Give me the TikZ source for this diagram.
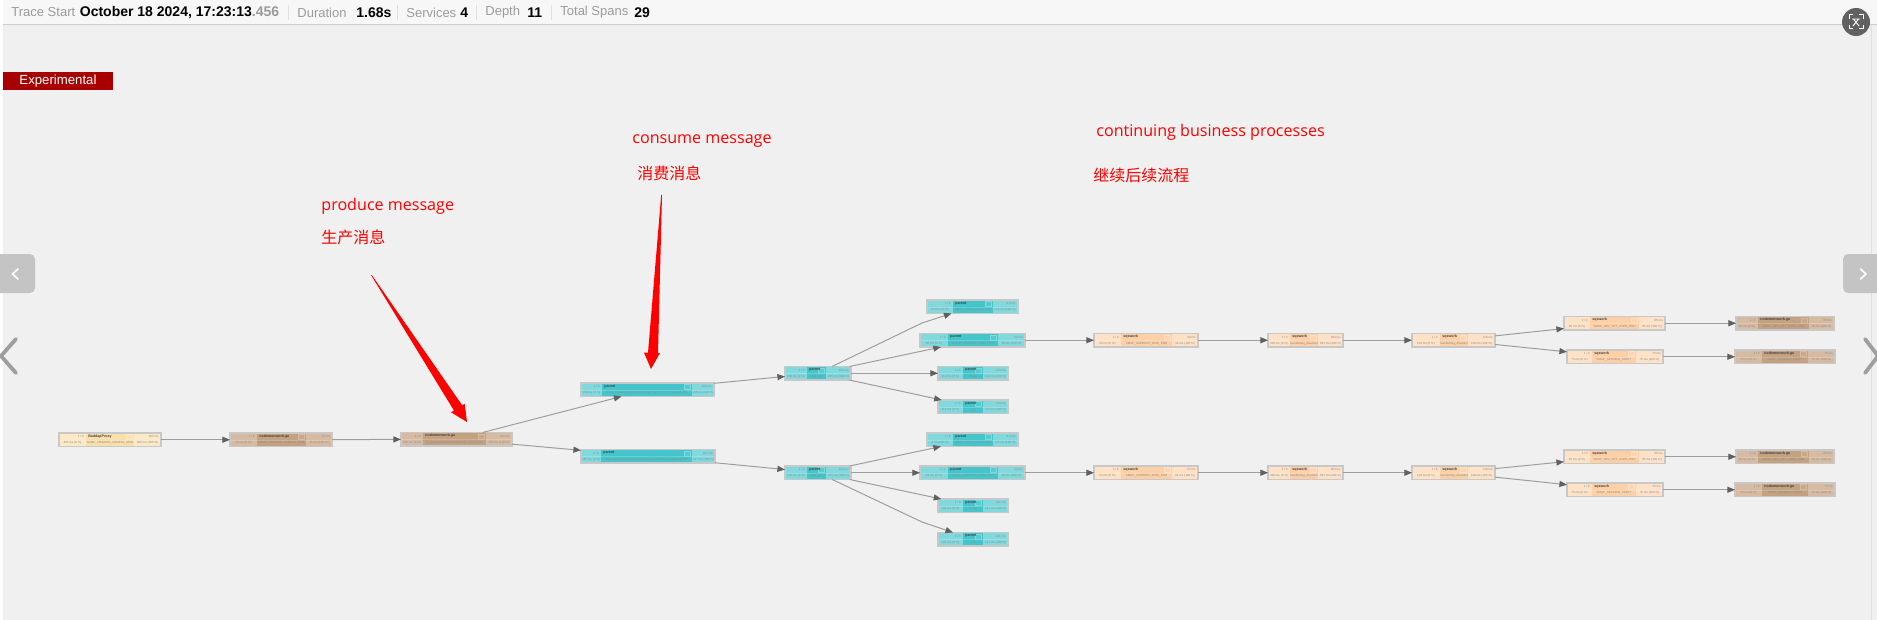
\documentclass[tikz,border=0pt]{standalone}
\usepackage{fontspec}
\setmainfont{Liberation Sans}
\newfontfamily\annotfont{Open Sans}
\newfontfamily\cjk{Noto Sans CJK SC}
\usetikzlibrary{arrows.meta}

\definecolor{pagegray}{HTML}{F0F0F0}
\definecolor{framegray}{HTML}{C8C8C8}
\definecolor{edgegray}{HTML}{9E9E9E}
\definecolor{tipgray}{HTML}{606060}
\definecolor{headgray}{HTML}{9B9B9B}
\definecolor{yellowlight}{HTML}{FDE9C5}
\definecolor{yellowdark}{HTML}{FBDFAA}
\definecolor{brownlight}{HTML}{D6BBA2}
\definecolor{browndark}{HTML}{C4A17F}
\definecolor{teallight}{HTML}{7FD9DD}
\definecolor{tealdark}{HTML}{44C5CB}
\definecolor{peachlight}{HTML}{FFE1C6}
\definecolor{peachdark}{HTML}{FFD0A6}

\tikzset{
  boxfill/.style={inner sep=0pt, outer sep=0pt},
  boxframe/.style={draw=framegray, line width=0.6pt},
  boxtext/.style={inner sep=0pt, text=black!45, font=\fontsize{1.5}{2}\selectfont},
  boxname/.style={inner sep=0pt, text=black!75, font=\fontsize{1.8}{2}\selectfont\bfseries},
  flow/.style={draw=edgegray, line width=0.5pt, -{Triangle[length=3.8pt,width=3pt,color=tipgray]}},
  headgrey/.style={anchor=west, inner sep=0pt, text=headgray, font=\fontsize{6.5}{8}\selectfont},
  headbold/.style={anchor=west, inner sep=0pt, text=black, font=\fontsize{7}{8}\selectfont\bfseries},
  headsep/.style={draw=black!12, line width=0.4pt},
  redtext/.style={anchor=west, inner sep=0pt, text=red, font=\fontsize{8.05}{10}\selectfont\annotfont},
  redcjk/.style={anchor=west, inner sep=0pt, text=red, font=\fontsize{8}{10}\selectfont\cjk},
  pagebutton/.style={fill=black!23, rounded corners=2.5pt},
  chevron/.style={draw=white, line width=0.8pt, line cap=round, line join=round},
  bigchevron/.style={draw=black!38, line width=1.9pt, line cap=round, line join=round},
}

% one span: name, colour, x1,cx1,cx2,x2,ytop, service, operation, duration
\def\spangeom#1,#2,#3,#4,#5;{\def\xa{#1}\def\xb{#2}\def\xc{#3}\def\xd{#4}\def\ya{#5}}
\newcommand{\spanbox}[6]{
  \spangeom#3;
  \node[boxfill, fill=#2light, minimum width={(\xd-\xa)*0.5pt}, minimum height=6.75pt]
    (#1) at ({(\xa+\xd)/2},{\ya+6.75}) {};
  \fill[#2dark] (\xb,\ya) rectangle (\xc,\ya+13.5);
  \draw[white, opacity=0.2, line width=0.25pt] (\xa,\ya+7) -- (\xd,\ya+7);
  \draw[#2light, fill=#2dark!70!#2light, line width=0.25pt] (\xc-8,\ya+1.5) rectangle (\xc-1.5,\ya+6.5);
  \draw[boxframe] (#1.south west) rectangle (#1.north east);
  \node[boxtext, anchor=east] (#1a) at (\xb-2,\ya+3.8) {1 / 0};
  \node[boxname, anchor=west] (#1b) at (\xb+2,\ya+3.2) {#4};
  \node[boxtext, anchor=east] (#1c) at (\xd-2,\ya+3.8) {#6};
  \node[boxtext] (#1d) at ({(\xa+\xb)/2},\ya+10.2) {#6 (0 \%)};
  \node[boxtext] (#1e) at ({(\xb+\xc)/2},\ya+10.2) {#5};
  \node[boxtext] (#1f) at ({(\xc+\xd)/2},\ya+10.2) {#6 (100 \%)};
}

\begin{document}
\begin{tikzpicture}[x=0.5pt, y=-0.5pt]
    \useasboundingbox (0,0) rectangle (1877,620);
    \fill[pagegray] (0,0) rectangle (1877,620);
    \fill[white] (0,0) rectangle (3,620);
    \draw[black!12, line width=0.5pt] (1871.5,24) -- (1871.5,620);

    % header bar
    \fill[black!3] (3,0) rectangle (1877,24);
    \draw[black!20, line width=0.6pt] (3,24.5) -- (1877,24.5);
    \node[headgrey] (h1) at (11,12.5) {Trace Start};
    \node[headbold] (h2) at (79.5,12.5) {October 18 2024, 17:23:13\textcolor{headgray}{.456}};
    \node[headgrey] (h3) at (297,12.5) {Duration};
    \node[headbold] (h4) at (356,12.5) {1.68s};
    \node[headgrey] (h5) at (406,12.5) {Services};
    \node[headbold] (h6) at (460,12.5) {4};
    \node[headgrey] (h7) at (485,12.5) {Depth};
    \node[headbold] (h8) at (527,12.5) {11};
    \node[headgrey] (h9) at (560,12.5) {Total Spans};
    \node[headbold] (h10) at (634,12.5) {29};
    \draw[headsep] (288,5) -- (288,20);
    \draw[headsep] (397,5) -- (397,20);
    \draw[headsep] (476,5) -- (476,20);
    \draw[headsep] (551,5) -- (551,20);

    % translate button
    \fill[black!62] (1856,22) circle (14);
    \draw[white, line width=0.5pt] (1849,19) -- (1849,15) -- (1853,15);
    \draw[white, line width=0.5pt] (1859,15) -- (1863,15) -- (1863,19);
    \draw[white, line width=0.5pt] (1863,25) -- (1863,29) -- (1859,29);
    \draw[white, line width=0.5pt] (1853,29) -- (1849,29) -- (1849,25);
    \draw[white, line width=0.45pt] (1852,19) -- (1860,19) (1853.5,19) -- (1859,26) (1858.5,19) -- (1853,26);

    \node[fill={rgb,255:red,168;green,0;blue,0}, text=white, minimum width=55pt, minimum height=9pt, inner sep=0pt, font=\fontsize{6.6}{8}\selectfont] (exp) at (58,81) {Experimental};

    % side buttons
    \path[pagebutton] (-6,254) rectangle (35,293);
    \draw[chevron] (18,269) -- (12.5,274) -- (18,279);
    \draw[bigchevron] (16,339) -- (1,356) -- (16,373);
    \path[pagebutton] (1843,254) rectangle (1883,293);
    \draw[chevron] (1860.5,269) -- (1866,274) -- (1860.5,279);
    \draw[bigchevron] (1865,339) -- (1878,356) -- (1865,373);

    % spans
    \spanbox{1}{yellow}{59,86,134,161,433}{BaddapProxy}{SNMP\_TRIGGER\_SAMPLE\_DISK}{405 ms}
    \spanbox{2}{brown}{230,257,306,332,433}{nodemonwork.go}{SNMP\_TRIGGER\_SAMPLE\_DISK}{15 ms}
    \spanbox{3}{brown}{401,423,486,512,432.5}{nodemonwork.go}{to\_panoptes/pubsub/nats/main\_panel\_flow}{182 ms}
    \spanbox{4}{teal}{581,602,692,714,383}{parent}{from\_panoptes/pubsub/nats/main\_panel\_flow\_unkpanelp/flw}{158 ms}
    \spanbox{5}{teal}{581,601,692,715,449.5}{parent}{from\_panoptes/pubsub/nats/main\_panel\_flow\_unkpanelp/flw}{187 ms}
    \spanbox{6}{teal}{785,807,826,851,366.5}{parent}{step\_gus}{185 ms}
    \spanbox{7}{teal}{927,953,993,1018,300}{parent}{SMAP\_PROC\_DIMN\_END}{9.6 ms}
    \spanbox{8}{teal}{920,948,998,1025,333.5}{parent}{SMAP\_USERDEV\_DISK\_END}{50 ms}
    \spanbox{9}{teal}{938,963,983,1008,366.5}{parent}{image}{113 ms}
    \spanbox{10}{teal}{938,963,983,1008,400}{parent}{sub}{114 ms}
    \spanbox{11}{teal}{785,807,826,851,466}{parent}{step\_gus}{199 ms}
    \spanbox{12}{teal}{927,953,993,1018,433}{parent}{SMAP\_PROC\_DIMN\_END}{8.5 ms}
    \spanbox{13}{teal}{920,948,998,1025,466}{parent}{SMAP\_USERDEV\_DISK\_END}{54 ms}
    \spanbox{14}{teal}{938,963,983,1008,499}{parent}{image}{121 ms}
    \spanbox{15}{teal}{938,963,983,1008,532.5}{parent}{sub}{121 ms}
    \spanbox{16}{peach}{1094,1121,1172,1198,333.5}{sqswork}{SMAP\_USERDEV\_DISK\_END}{50 ms}
    \spanbox{17}{peach}{1268,1290,1318,1343,333.5}{sqswork}{handleMsg\_disabled}{303 ms}
    \spanbox{18}{peach}{1412,1440,1468,1495,333.5}{sqswork}{handleMsg\_disabled}{118 ms}
    \spanbox{19}{peach}{1564,1590,1639,1665,316.5}{sqswork}{SMAP\_DEV\_SET\_USER\_END}{95 ms}
    \spanbox{20}{peach}{1567,1592,1636,1663,350}{sqswork}{SMAP\_SESSION\_START}{75 ms}
    \spanbox{21}{brown}{1736,1758,1809,1834,316.5}{nodemonwork.go}{SMAP\_DEV\_SET\_USER\_END}{95 ms}
    \spanbox{22}{brown}{1735,1762,1808,1835,350}{nodemonwork.go}{SMAP\_SESSION\_START}{75 ms}
    \spanbox{23}{peach}{1094,1121,1172,1198,466}{sqswork}{SMAP\_USERDEV\_DISK\_END}{54 ms}
    \spanbox{24}{peach}{1268,1290,1318,1343,466}{sqswork}{handleMsg\_disabled}{303 ms}
    \spanbox{25}{peach}{1412,1440,1468,1495,466}{sqswork}{handleMsg\_disabled}{118 ms}
    \spanbox{26}{peach}{1564,1590,1639,1665,450}{sqswork}{SMAP\_DEV\_SET\_USER\_END}{95 ms}
    \spanbox{27}{peach}{1567,1592,1636,1663,483}{sqswork}{SMAP\_SESSION\_START}{75 ms}
    \spanbox{28}{brown}{1736,1758,1809,1834,450}{nodemonwork.go}{SMAP\_DEV\_SET\_USER\_END}{95 ms}
    \spanbox{29}{brown}{1735,1762,1808,1835,483}{nodemonwork.go}{SMAP\_SESSION\_START}{75 ms}

    \coordinate (w1) at (922,323);
    \coordinate (w2) at (922,522);

    \draw[flow] (1) -- (2);
    \draw[flow] (2) -- (3);
    \draw[flow] (3) -- (4);
    \draw[flow] (3) -- (5);
    \draw[flow] (4) -- (6);
    \draw[flow] (5) -- (11);
    \draw[flow] (6) -- (w1) -- (7);
    \draw[flow] (6) -- (8);
    \draw[flow] (6) -- (9);
    \draw[flow] (6) -- (10);
    \draw[flow] (11) -- (12);
    \draw[flow] (11) -- (13);
    \draw[flow] (11) -- (14);
    \draw[flow] (11) -- (w2) -- (15);
    \draw[flow] (8) -- (16);
    \draw[flow] (16) -- (17);
    \draw[flow] (17) -- (18);
    \draw[flow] (18) -- (19);
    \draw[flow] (18) -- (20);
    \draw[flow] (19) -- (21);
    \draw[flow] (20) -- (22);
    \draw[flow] (13) -- (23);
    \draw[flow] (23) -- (24);
    \draw[flow] (24) -- (25);
    \draw[flow] (25) -- (26);
    \draw[flow] (25) -- (27);
    \draw[flow] (26) -- (28);
    \draw[flow] (27) -- (29);

    % red notes
    \node[redtext] (n1) at (321,206) {produce message};
    \node[redcjk] (n2) at (321,237) {生产消息};
    \node[redtext] (n3) at (632,141) {consume message};
    \node[redcjk] (n4) at (637,173) {消费消息};
    \node[redtext] (n5) at (1096,132) {continuing business processes};
    \node[redcjk] (n6) at (1093,175) {继续后续流程};

    \fill[red] (371,275) -- (371.8,275) -- (462,405) -- (464.7,404) -- (467,422) -- (451,412.3) -- (454,410.6) -- cycle;
    \fill[red] (661.2,195) -- (662,195) -- (658,353) -- (660,353) -- (651,369) -- (644,352.7) -- (648,352.7) -- cycle;
\end{tikzpicture}
\end{document}
